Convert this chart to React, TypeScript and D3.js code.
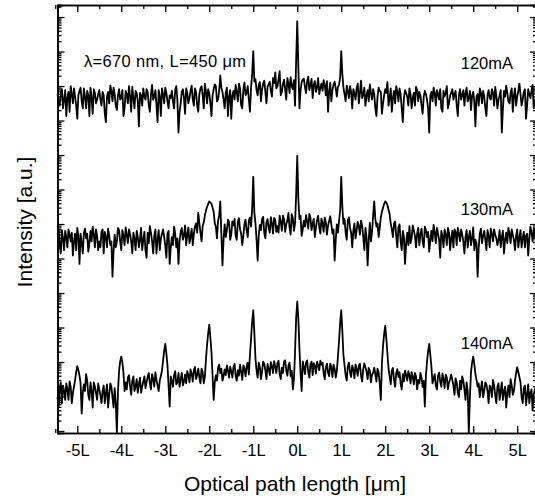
import React, {useEffect, useRef} from 'react';
import * as d3 from 'd3';

const width = 535;
const height = 502;
// plot frame (right edge falls just outside the picture, like the scan)
const frame = {left: 57.5, right: 537, top: 5, bottom: 433};
const font = 'Liberation Sans, Arial, Helvetica, sans-serif';

// sample grid of the traces, in units of L (mid samples sit half a step after each grid sample)
const sampleStart = -5.45;
const sampleStep = 0.05;

const xTicks = [-5, -4, -3, -2, -1, 0, 1, 2, 3, 4, 5];
const xMinorTicks = [-5.5, -4.5, -3.5, -2.5, -1.5, -0.5, 0.5, 1.5, 2.5, 3.5, 4.5, 5.5];
const xTickLabels = ['-5L', '-4L', '-3L', '-2L', '-1L', '0L', '1L', '2L', '3L', '4L', '5L'];

const currents = ['120mA', '130mA', '140mA'];
// vertical offset of each trace on the log axis
const offsets = [4.5e9, 3.5e5, 16];

// relative intensity on the grid, one row per L
const trace120 = [
    1.3, 0.6, 1.8, 0.9, 0.3, 1.5, 2.2, 0.7, 1.1, 0.25, 1.6, 0.8, 1.9, 0.5, 1.2, 2.0, 0.35, 1.4, 0.9, 1.7,
    0.6, 1.2, 0.2, 1.5, 2.3, 0.8, 1.3, 0.45, 1.8, 1.0, 0.3, 1.6, 0.7, 1.1, 2.1, 0.5, 1.4, 0.15, 1.2, 1.9,
    0.9, 1.5, 0.4, 2.4, 1.1, 0.6, 1.7, 0.3, 1.3, 2.0, 0.8, 1.2, 1.6, 0.5, 2.2, 0.1, 0.7, 1.8, 0.35, 1.4,
    1.0, 2.3, 0.6, 1.5, 0.4, 1.9, 1.2, 2.6, 0.7, 1.4, 0.3, 1.8, 2.2, 0.9, 4.5, 1.5, 0.5, 2.0, 1.1, 0.25,
    1.6, 2.4, 0.8, 1.9, 0.5, 2.8, 1.4, 0.9, 2.0, 23, 3.5, 1.2, 2.9, 1.8, 3.2, 0.7, 2.5, 1.6, 3.8, 5.5,
    2.2, 6.0, 1.5, 3.4, 0.9, 2.7, 4.0, 1.8, 0.6, 170, 0.5, 2.9, 3.6, 1.4, 4.2, 2.3, 1.0, 3.1, 2.0, 1.3,
    2.6, 3.3, 1.2, 0.4, 2.8, 1.7, 3.0, 1.1, 2.4, 23, 2.0, 0.8, 1.6, 2.2, 0.5, 1.4, 1.9, 0.7, 3.2, 1.2,
    0.6, 1.7, 2.5, 0.9, 1.3, 0.3, 2.0, 1.5, 0.7, 1.8, 2.9, 1.0, 0.4, 1.6, 2.2, 0.8, 1.3, 0.2, 1.7, 1.1,
    1.9, 0.5, 1.4, 2.1, 0.8, 1.2, 0.35, 1.6, 0.9, 0.1, 1.5, 2.0, 0.6, 1.3, 1.8, 0.4, 1.1, 2.2, 0.7, 1.4,
    0.9, 1.6, 0.3, 1.8, 1.2, 0.6, 2.0, 1.0, 0.45, 1.5, 0.15, 1.3, 1.9, 0.7, 1.1, 0.3, 1.7, 0.9, 1.4, 2.1,
    0.5, 1.2, 0.1, 1.6, 2.3, 0.8, 1.4, 0.4, 1.9, 1.1, 2.6, 0.6, 1.5, 0.25, 1.8, 1.0, 2.4, 0.7, 1.3,
];
const mid120 = [
    0.8, 1.4, 0.5, 1.7, 1.0, 0.4, 1.3, 1.9, 0.6, 1.2, 2.0, 0.5, 1.1, 1.6, 0.3, 1.0, 1.8, 0.7, 1.3, 0.9,
    1.5, 0.35, 1.1, 0.7, 1.6, 2.0, 0.6, 1.2, 0.9, 1.7, 0.5, 1.3, 2.2, 0.4, 1.0, 1.6, 0.8, 1.4, 0.6, 1.1,
    1.8, 0.6, 1.3, 0.9, 1.7, 0.2, 1.1, 1.9, 0.7, 1.4, 0.5, 1.0, 0.8, 1.7, 0.9, 0.4, 1.5, 1.0, 1.9, 0.7,
    1.6, 0.9, 1.9, 0.6, 1.3, 2.2, 0.5, 1.5, 1.8, 0.7, 1.2, 2.5, 0.8, 1.6, 2.0, 0.9, 1.4, 0.3, 1.7, 1.2,
    0.9, 1.5, 2.6, 0.6, 1.8, 1.2, 2.2, 0.4, 5.0, 3.0, 1.7, 2.4, 0.8, 2.6, 1.5, 2.1, 3.0, 1.1, 2.7, 1.9,
    3.5, 1.2, 2.6, 1.8, 3.8, 1.4, 2.2, 3.3, 12, 8.0, 1.6, 3.4, 2.1, 3.0, 1.7, 3.6, 2.4, 1.5, 3.8, 2.0,
    1.6, 2.4, 3.1, 1.5, 0.8, 2.5, 1.9, 2.1, 4.0, 5.0, 1.3, 2.3, 1.0, 1.5, 1.8, 0.9, 2.6, 1.4, 1.0, 2.0,
    1.2, 0.8, 1.4, 1.8, 0.5, 1.1, 1.6, 0.35, 1.2, 1.4, 0.6, 1.9, 1.0, 0.7, 1.5, 1.9, 0.5, 1.0, 1.4, 0.6,
    1.3, 1.0, 0.6, 1.7, 1.5, 0.6, 1.1, 1.3, 0.5, 1.2, 0.8, 1.4, 1.7, 0.9, 0.5, 1.6, 1.4, 0.5, 1.2, 1.8,
    1.3, 0.6, 1.2, 0.9, 1.7, 1.4, 0.8, 1.6, 1.2, 0.8, 1.1, 0.6, 1.4, 1.6, 0.5, 1.2, 1.0, 1.8, 0.6, 1.2,
    0.9, 1.7, 0.5, 1.1, 1.4, 0.7, 1.9, 1.2, 0.6, 1.6, 1.3, 0.9, 1.8, 0.6, 1.3, 1.6, 0.5, 1.1,
];

const trace130 = [
    1.4, 0.7, 1.9, 0.5, 1.2, 2.0, 0.9, 0.35, 1.5, 2.2, 0.2, 0.8, 1.6, 1.1, 0.45, 1.8, 2.4, 0.6, 1.3, 0.9,
    1.7, 0.4, 1.2, 2.1, 0.7, 0.085, 1.4, 0.9, 1.9, 0.5, 1.3, 2.3, 0.8, 1.5, 0.4, 1.1, 1.8, 0.6, 2.2, 1.0,
    0.5, 1.6, 2.5, 0.9, 1.3, 0.4, 1.9, 1.1, 2.0, 0.7, 1.5, 0.2, 1.2, 2.4, 0.6, 0.2, 1.7, 1.0, 2.6, 1.4,
    0.8, 2.1, 1.5, 3.0, 6.0, 1.6, 2.5, 5.0, 9.0, 13, 11, 6.5, 2.4, 3.5, 13, 0.18, 2.8, 1.9, 3.3, 1.4,
    2.6, 1.3, 3.4, 2.0, 0.7, 2.9, 1.8, 3.6, 2.4, 67, 3.0, 0.25, 2.7, 4.0, 1.6, 3.2, 2.2, 4.5, 1.5, 3.8,
    2.5, 5.0, 1.8, 3.9, 2.8, 6.0, 1.4, 4.2, 3.0, 270, 4.0, 1.3, 3.6, 5.2, 2.1, 4.4, 2.9, 1.2, 3.7, 2.3,
    4.1, 1.7, 3.3, 2.6, 4.8, 1.5, 0.25, 2.8, 3.5, 67, 2.9, 1.6, 3.7, 2.2, 0.6, 3.0, 1.9, 2.5, 3.6, 1.2,
    2.2, 0.18, 3.1, 1.7, 13, 2.4, 1.2, 4.5, 8.5, 13, 10, 5.5, 2.0, 3.0, 1.3, 2.3, 0.9, 1.8, 0.2, 1.6,
    2.5, 1.1, 1.9, 0.6, 2.2, 1.4, 0.9, 2.4, 1.2, 0.45, 1.8, 2.7, 0.8, 1.5, 0.3, 1.3, 2.0, 0.7, 1.6, 1.1,
    0.6, 1.7, 2.2, 0.9, 1.4, 0.4, 1.9, 1.2, 0.7, 2.3, 1.0, 0.085, 1.5, 0.8, 1.8, 0.5, 1.3, 2.1, 0.9, 1.4,
    0.7, 1.9, 1.2, 0.4, 1.6, 2.2, 0.8, 1.4, 0.5, 2.0, 1.1, 0.6, 1.7, 1.3, 0.35, 2.4, 0.9, 1.5, 1.8,
];
const mid130 = [
    2.0, 0.4, 1.1, 1.8, 0.6, 1.4, 1.6, 0.9, 0.5, 1.3, 1.5, 0.4, 2.1, 1.5, 0.8, 0.9, 1.4, 2.0, 0.5, 0.6,
    2.0, 1.7, 0.6, 1.3, 0.9, 0.5, 0.6, 2.2, 0.9, 1.9, 0.7, 1.4, 2.0, 0.9, 1.6, 0.5, 1.2, 1.0, 0.5, 1.7,
    0.3, 0.8, 1.6, 0.4, 2.0, 1.0, 0.5, 1.5, 1.2, 0.3, 1.8, 0.6, 0.7, 1.5, 1.1, 0.9, 2.2, 1.3, 0.7, 2.3,
    1.2, 0.7, 2.4, 1.6, 3.0, 0.9, 3.2, 7.0, 11, 12, 8.5, 3.0, 1.1, 5.0, 1.5, 1.0, 1.2, 3.8, 1.0, 3.4,
    4.0, 1.0, 4.2, 1.5, 1.3, 3.8, 1.2, 4.4, 8.0, 6.0, 1.0, 1.4, 1.9, 4.6, 1.1, 4.0, 1.6, 3.0, 4.3, 1.7,
    1.6, 3.4, 5.0, 1.7, 3.6, 2.2, 5.5, 1.8, 20, 15, 5.0, 2.0, 2.4, 3.4, 5.6, 1.9, 4.0, 2.3, 5.0, 1.5,
    3.0, 4.4, 1.4, 3.5, 2.8, 2.0, 1.0, 1.6, 7.0, 9.0, 4.0, 1.0, 4.5, 1.6, 1.8, 1.1, 3.3, 1.4, 2.6, 0.5,
    1.2, 1.0, 0.9, 5.0, 4.0, 3.0, 2.2, 6.5, 11, 12, 7.5, 3.0, 1.2, 3.4, 0.6, 2.8, 0.5, 1.2, 0.8, 0.7,
    0.8, 2.6, 1.3, 1.5, 0.7, 2.1, 0.6, 1.9, 1.7, 1.0, 0.9, 1.6, 2.2, 1.0, 1.8, 0.6, 1.4, 2.2, 0.5, 1.8,
    2.0, 0.7, 1.5, 2.0, 0.9, 1.2, 0.6, 1.8, 1.1, 0.5, 0.8, 0.6, 2.1, 1.3, 1.0, 1.9, 0.6, 1.5, 2.0, 1.1,
    1.0, 0.6, 1.8, 1.0, 0.8, 1.5, 2.0, 1.0, 1.3, 0.6, 1.9, 1.1, 0.6, 1.5, 1.1, 1.6, 2.1, 0.8,
];

const trace140 = [
    0.6, 1.1, 0.4, 0.9, 1.5, 0.5, 1.2, 0.8, 1.9, 4.7, 2.5, 0.2, 1.4, 2.8, 0.7, 1.6, 0.3, 1.2, 0.5, 1.0,
    0.4, 1.3, 0.8, 0.3, 1.5, 0.6, 1.1, 0.056, 3.5, 9.0, 3.0, 1.6, 2.2, 1.2, 1.8, 0.9, 2.0, 1.4, 0.8, 1.7,
    1.1, 2.3, 1.5, 2.8, 1.2, 1.9, 0.9, 2.5, 7.0, 21, 5.0, 0.32, 1.8, 2.6, 1.4, 3.0, 2.0, 1.3, 2.7, 3.4,
    1.6, 2.9, 3.6, 2.0, 4.0, 1.5, 3.2, 2.4, 20, 76, 12, 0.5, 2.6, 4.2, 3.0, 1.8, 3.8, 5.0, 2.2, 3.4,
    4.4, 2.5, 3.6, 5.2, 1.9, 3.9, 4.8, 2.7, 30, 195, 8.0, 2.2, 4.5, 3.3, 5.5, 2.0, 4.0, 6.2, 3.0, 4.6,
    5.8, 2.8, 4.3, 6.5, 3.5, 5.0, 2.4, 1.0, 12, 355, 15, 0.9, 4.6, 6.0, 3.2, 5.4, 2.6, 4.8, 6.3, 3.6,
    5.2, 2.9, 4.4, 3.1, 5.6, 2.3, 4.0, 3.4, 25, 195, 10, 2.6, 4.7, 3.2, 5.0, 2.1, 3.8, 4.9, 2.5, 3.9,
    4.5, 2.0, 3.5, 2.7, 4.3, 1.7, 3.1, 0.5, 18, 70, 11, 2.4, 3.6, 1.9, 3.0, 2.3, 1.5, 2.8, 3.5, 1.8,
    2.6, 3.2, 1.4, 2.4, 1.9, 3.0, 1.2, 0.32, 6.5, 21, 4.5, 2.0, 1.3, 2.5, 1.7, 2.9, 1.1, 2.2, 1.6, 2.7,
    1.3, 2.1, 0.8, 1.8, 2.4, 1.0, 1.6, 0.056, 3.2, 9.0, 2.8, 1.2, 0.6, 1.7, 0.9, 1.4, 0.4, 1.1, 1.9, 0.7,
    1.2, 0.5, 1.6, 0.9, 0.3, 1.3, 2.0, 0.7, 1.8, 4.4, 2.3, 0.6, 1.1, 0.35, 1.4, 0.8, 0.25, 1.0, 0.5,
];
const mid140 = [
    0.3, 1.6, 1.3, 0.5, 1.0, 1.7, 0.4, 1.2, 3.2, 3.6, 1.5, 0.8, 0.9, 1.8, 0.5, 0.9, 1.6, 0.8, 1.5, 0.7,
    0.9, 0.4, 1.4, 0.7, 1.2, 0.3, 0.4, 0.9, 6.5, 6.0, 0.9, 1.0, 2.6, 0.7, 2.4, 1.2, 0.8, 2.2, 1.2, 2.4,
    1.6, 3.0, 1.0, 2.0, 3.2, 1.3, 1.8, 3.5, 13, 11, 1.3, 2.4, 1.2, 3.4, 1.6, 1.2, 3.0, 1.7, 1.5, 2.6,
    3.8, 1.7, 4.5, 2.6, 2.2, 4.0, 1.5, 7.5, 42, 32, 2.5, 1.6, 1.8, 5.2, 4.0, 2.4, 2.6, 3.6, 4.6, 2.2,
    5.5, 1.8, 2.5, 3.2, 5.0, 2.4, 6.0, 10, 90, 45, 3.5, 6.0, 2.0, 6.4, 3.6, 5.5, 2.6, 4.8, 6.6, 3.0,
    6.8, 2.0, 3.0, 7.0, 2.5, 6.0, 3.5, 2.0, 120, 110, 3.0, 6.5, 2.8, 7.0, 2.2, 6.4, 5.8, 2.9, 5.0, 6.8,
    6.0, 2.0, 5.6, 2.4, 4.5, 5.2, 2.2, 9.0, 85, 50, 5.0, 1.8, 6.0, 2.3, 3.8, 5.3, 2.5, 5.6, 1.7, 5.7,
    3.3, 4.2, 1.6, 3.0, 2.8, 4.0, 1.5, 6.0, 40, 30, 4.0, 1.4, 4.2, 1.2, 3.9, 3.2, 1.0, 1.7, 2.6, 3.4,
    1.5, 2.4, 3.0, 1.0, 1.5, 2.2, 1.8, 2.5, 13, 10, 1.5, 2.8, 1.0, 3.1, 1.2, 2.0, 2.7, 1.0, 2.0, 1.9,
    0.7, 1.6, 0.6, 1.0, 1.8, 0.5, 0.9, 0.6, 6.0, 5.5, 1.9, 1.5, 1.1, 0.6, 1.6, 0.9, 1.3, 0.6, 1.3, 0.4,
    1.5, 0.9, 0.5, 1.2, 0.8, 0.6, 1.3, 0.9, 3.0, 3.2, 1.6, 0.4, 1.3, 0.7, 0.4, 1.0, 0.7, 1.2,
];

const traces = [trace120, trace130, trace140];
const mids = [mid120, mid130, mid140];

// label positions (baseline) for the current labels
const labelY = [69, 215, 349];

const xScale = d3.scaleLinear().domain([-5.45, 5.45]).range([frame.left, frame.right]);
const yScale = d3.scaleLog().domain([Math.pow(10, -0.058), Math.pow(10, 12.35)]).range([frame.bottom, frame.top]);

const yMajor = d3.range(0, 13).map(k => Math.pow(10, k));
const yMinor = [];
for (let k = 0; k <= 12; k++) {
    for (let m = 2; m <= 9; m++) {
        const v = m * Math.pow(10, k);
        if (yScale(v) > frame.top + 1) yMinor.push(v);
    }
}

// grid samples and mid samples merged in x order
function samples(grid, mid, offset) {
    const pts = [];
    grid.forEach((v, i) => {
        pts.push([sampleStart + i * sampleStep, v * offset]);
        if (mid[i] !== undefined) pts.push([sampleStart + (i + 0.5) * sampleStep, mid[i] * offset]);
    });
    return pts;
}

export default function App() {
    const bottomMajor = useRef(null);
    const bottomMinor = useRef(null);
    const topMajor = useRef(null);
    const topMinor = useRef(null);
    const leftMajor = useRef(null);
    const leftMinor = useRef(null);
    const rightMajor = useRef(null);
    const rightMinor = useRef(null);

    useEffect(() => {
        const noLabel = () => '';
        d3.select(bottomMajor.current).call(d3.axisBottom(xScale).tickValues(xTicks).tickSize(-7)
            .tickPadding(11).tickFormat((d, i) => xTickLabels[i]));
        d3.select(bottomMinor.current).call(d3.axisBottom(xScale).tickValues(xMinorTicks).tickSize(-4).tickFormat(noLabel));
        d3.select(topMajor.current).call(d3.axisTop(xScale).tickValues(xTicks).tickSize(-7).tickFormat(noLabel));
        d3.select(topMinor.current).call(d3.axisTop(xScale).tickValues(xMinorTicks).tickSize(-4).tickFormat(noLabel));
        d3.select(leftMajor.current).call(d3.axisLeft(yScale).tickValues(yMajor).tickSize(-7).tickFormat(noLabel));
        d3.select(leftMinor.current).call(d3.axisLeft(yScale).tickValues(yMinor).tickSize(-4).tickFormat(noLabel));
        d3.select(rightMajor.current).call(d3.axisRight(yScale).tickValues(yMajor).tickSize(-7).tickFormat(noLabel));
        d3.select(rightMinor.current).call(d3.axisRight(yScale).tickValues(yMinor).tickSize(-4).tickFormat(noLabel));

        const svg = d3.select('#chart');
        svg.selectAll('.axis path.domain').attr('stroke', '#000').attr('stroke-width', 1.6);
        svg.selectAll('.axis line').attr('stroke', '#000').attr('stroke-width', 1.3);
        svg.selectAll('.axis text').attr('font-family', font).attr('font-size', 16.5).attr('fill', '#000');
    }, []);

    const line = d3.line()
        .x(d => xScale(d[0]))
        .y(d => yScale(d[1]));

    return (
        <svg id='chart' width={width} height={height}
             style={{position: 'absolute', left: 0, top: 0, background: '#fff'}}>
            {traces.map((t, j) => (
                <path key={currents[j]} d={line(samples(t, mids[j], offsets[j]))}
                      fill='none' stroke='#000' strokeWidth='1.8' strokeLinejoin='round'/>
            ))}
            <g className='axis' ref={bottomMajor} transform={`translate(0, ${frame.bottom})`}/>
            <g className='axis' ref={bottomMinor} transform={`translate(0, ${frame.bottom})`}/>
            <g className='axis' ref={topMajor} transform={`translate(0, ${frame.top})`}/>
            <g className='axis' ref={topMinor} transform={`translate(0, ${frame.top})`}/>
            <g className='axis' ref={leftMajor} transform={`translate(${frame.left}, 0)`}/>
            <g className='axis' ref={leftMinor} transform={`translate(${frame.left}, 0)`}/>
            <g className='axis' ref={rightMajor} transform={`translate(${frame.right}, 0)`}/>
            <g className='axis' ref={rightMinor} transform={`translate(${frame.right}, 0)`}/>

            <text x={84} y={67} fontFamily={font} fontSize={16.5} textLength={162}
                  lengthAdjust='spacing'>λ=670 nm, L=450 μm</text>
            {currents.map((c, j) => (
                <text key={c} x={513} y={labelY[j]} textAnchor='end' fontFamily={font} fontSize={16.5}>{c}</text>
            ))}
            <text x={295} y={491} textAnchor='middle' fontFamily={font} fontSize={21}>Optical path length [μm]</text>
            <text transform={`translate(32, 222) rotate(-90)`} textAnchor='middle'
                  fontFamily={font} fontSize={21}>Intensity [a.u.]</text>
        </svg>
    );
}
